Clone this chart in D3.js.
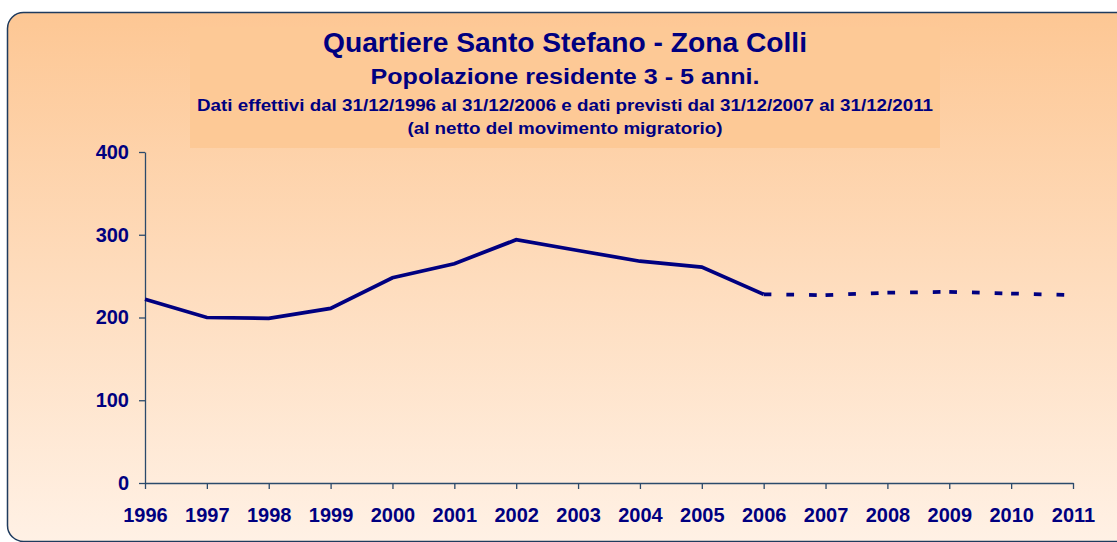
<!DOCTYPE html>
<html><head><meta charset="utf-8">
<script src="https://cdn.jsdelivr.net/npm/d3@7"></script>
<style>body{margin:0;background:#fff;}svg{display:block;}</style>
</head><body>
<svg id="c" width="1117" height="542"></svg>
<script>
const years = [1996,1997,1998,1999,2000,2001,2002,2003,2004,2005,2006,2007,2008,2009,2010,2011];
const actualYears = [1996,1997,1998,1999,2000,2001,2002,2003,2004,2005,2006];
const actualValues = [222,200,199,211,248,265,294,281,268,261,228];
const forecastYears = [2006,2007,2008,2009,2010,2011];
const forecastValues = [228,227,230,231,229,227];
const yTicks = [0,100,200,300,400];
const titleLines = [
  "Quartiere Santo Stefano - Zona Colli",
  "Popolazione residente 3 - 5 anni.",
  "Dati effettivi dal 31/12/1996 al 31/12/2006 e dati previsti dal 31/12/2007 al 31/12/2011",
  "(al netto del movimento migratorio)"
];

const svg = d3.select("#c");
const navy = "#000080";
const axisCol = "#2B4A6B";
const font = "'Liberation Sans', Arial, sans-serif";

const defs = svg.append("defs");
const g = defs.append("linearGradient").attr("id","bg").attr("x1",0).attr("y1",0).attr("x2",0).attr("y2",1);
g.append("stop").attr("offset","0%").attr("stop-color","#FDC794");
g.append("stop").attr("offset","100%").attr("stop-color","#FFF1E5");

svg.append("rect").attr("x",7.5).attr("y",12.5).attr("width",1140).attr("height",529)
  .attr("rx",16).attr("ry",16).attr("fill","url(#bg)").attr("stroke","#1F3B5E").attr("stroke-width",1.5);

// title box
svg.append("rect").attr("x",190).attr("y",27).attr("width",750).attr("height",121).attr("fill","#FDC996");

const tSizes = [27,22,16.3,16.3];
const tBase = [52,84,111,133.5];
const tWidths = [484,389,736,315];
titleLines.forEach((t,i)=>{
  svg.append("text").attr("x",565).attr("y",tBase[i]).attr("text-anchor","middle")
    .attr("font-family",font).attr("font-weight","bold").attr("font-size",tSizes[i])
    .attr("textLength",tWidths[i]).attr("lengthAdjust","spacingAndGlyphs")
    .attr("fill",navy).text(t);
});

const x = d3.scaleLinear().domain([years[0], years[years.length-1]]).range([145,1073]);
const y = d3.scaleLinear().domain([0,400]).range([483,152]);

const yAxis = svg.append("g").attr("transform","translate(145,0)")
  .call(d3.axisLeft(y).tickValues(yTicks).tickSize(6).tickPadding(10).tickSizeOuter(0));
const xAxis = svg.append("g").attr("transform","translate(0,483)")
  .call(d3.axisBottom(x).tickValues(years).tickFormat(d3.format("d")).tickSize(6).tickPadding(19).tickSizeOuter(0));
[yAxis,xAxis].forEach(a=>{
  a.selectAll("path,line").attr("stroke",axisCol).attr("stroke-width",1.3);
  a.selectAll("text").attr("font-family",font).attr("font-weight","bold").attr("font-size",20).attr("fill",navy);
});

const line = d3.line().x(d=>x(d[0])).y(d=>y(d[1]));
svg.append("path").datum(actualYears.map((yr,i)=>[yr,actualValues[i]]))
  .attr("d",line).attr("fill","none").attr("stroke",navy).attr("stroke-width",3.75).attr("stroke-linejoin","miter");

const fc = forecastYears.map((yr,i)=>[yr,forecastValues[i]]);
for(let i=0;i<fc.length-1;i++){
  svg.append("path").datum([fc[i],fc[i+1]]).attr("d",line).attr("fill","none")
    .attr("stroke",navy).attr("stroke-width",3.75).attr("stroke-dasharray","7.7,15");
}
</script>
</body></html>
